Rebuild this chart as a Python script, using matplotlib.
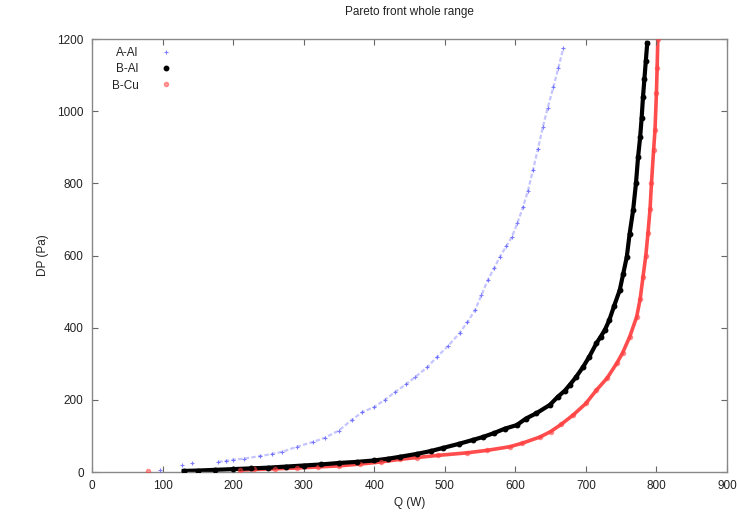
import matplotlib
matplotlib.use("Agg")
import matplotlib.pyplot as plt

plt.rcParams['font.family'] = ['Liberation Sans', 'DejaVu Sans']

# A-Al series (Q in W, DP in Pa)
a_al_q = [97, 128, 142, 179, 190, 200, 215, 238, 255, 270, 290, 313, 330, 350, 368, 383,
          400, 415, 430, 445, 458, 475, 489, 505, 521, 532, 543, 552, 561, 570, 578, 587,
          595, 603, 611, 618, 625, 632, 639, 646, 654, 661, 668]
a_al_dp = [5, 19, 25, 28, 31, 34, 37, 44, 50, 56, 70, 83, 95, 115, 144, 166,
           180, 200, 222, 243, 263, 290, 319, 350, 385, 415, 449, 490, 532, 565, 596, 625,
           651, 690, 735, 780, 837, 895, 956, 1010, 1067, 1120, 1175]

# B-Al series
b_al_q = [130, 150, 175, 200, 225, 250, 275, 300, 325, 350, 375, 400, 420, 436, 460, 480,
          498, 520, 540, 554, 570, 585, 602, 615, 630, 649, 660, 670, 677, 686, 696, 705,
          715, 721, 727, 733, 740, 748, 753, 758, 762, 767, 771, 774, 777, 779, 781, 783,
          785, 787]
b_al_dp = [3, 4, 6, 8, 10, 12, 15, 18, 21, 25, 28, 32, 37, 42, 50, 58,
           67, 78, 89, 97, 108, 120, 130, 148, 163, 186, 208, 225, 241, 263, 291, 320,
           357, 375, 394, 420, 460, 504, 550, 596, 660, 726, 800, 873, 929, 980, 1040, 1090,
           1140, 1189]

# B-Cu series
b_cu_q = [80, 210, 230, 260, 290, 320, 350, 380, 410, 436, 460, 490, 531, 560, 592, 610,
          635, 650, 665, 682, 700, 715, 730, 744, 752, 762, 772, 777, 781, 785, 788, 791,
          793, 796, 798, 800, 801, 802]
b_cu_dp = [2, 5, 7, 9, 11, 14, 17, 22, 28, 35, 40, 46, 53, 60, 70, 80,
           97, 112, 132, 158, 190, 227, 260, 302, 330, 374, 430, 480, 541, 600, 662, 730,
           801, 892, 948, 1050, 1120, 1200]

fig = plt.figure(figsize=(7.37, 5.18), dpi=100)
ax = fig.add_axes([0.1248, 0.0888, 0.8616, 0.8359])

# faint connecting traces to mimic dense point clouds
ax.plot(a_al_q[3:], a_al_dp[3:], color='#5a5aff', lw=1.6, alpha=0.35,
        ls=(0, (2, 1)), zorder=1)
ax.plot(b_al_q, b_al_dp, color='black', lw=3.0, zorder=2)
ax.plot(b_cu_q[1:], b_cu_dp[1:], color='#ff2020', lw=2.6, alpha=0.8, zorder=1.5)

ax.plot(a_al_q, a_al_dp, ls='none', marker='+', ms=3, mew=0.8, color='#4a4aff',
        alpha=0.7, label='A-Al', zorder=3)
ax.plot(b_al_q, b_al_dp, ls='none', marker='o', ms=3.2, color='black',
        label='B-Al', zorder=4)
ax.plot(b_cu_q, b_cu_dp, ls='none', marker='o', ms=3, color='#ff4040',
        alpha=0.5, label='B-Cu', zorder=3)

ax.set_xlim(0, 900)
ax.set_ylim(0, 1200)
ax.set_xticks(range(0, 901, 100))
ax.set_yticks(range(0, 1201, 200))
ax.tick_params(direction='in', top=True, right=True, length=4, width=0.8,
               colors='#666666', labelcolor='#222222', labelsize=8.5, pad=6)
for s in ax.spines.values():
    s.set_color('#888888')
    s.set_linewidth(1.0)

ax.set_xlabel('Q (W)', fontsize=8.5, color='#222222', labelpad=3)
ax.set_ylabel('DP (Pa)', fontsize=8.5, color='#222222', labelpad=6)
ax.set_title('Pareto front whole range', fontsize=8.5, color='#222222', pad=17)

leg = ax.legend(loc='upper left', frameon=False, markerfirst=False, fontsize=8.5,
                handlelength=1.0, handletextpad=1.8, labelspacing=0.35,
                borderaxespad=0.3, bbox_to_anchor=(0.018, 1.0))
for t in leg.get_texts():
    t.set_ha('right')
    t.set_color('#222222')

fig.savefig('out.png', dpi=100)
